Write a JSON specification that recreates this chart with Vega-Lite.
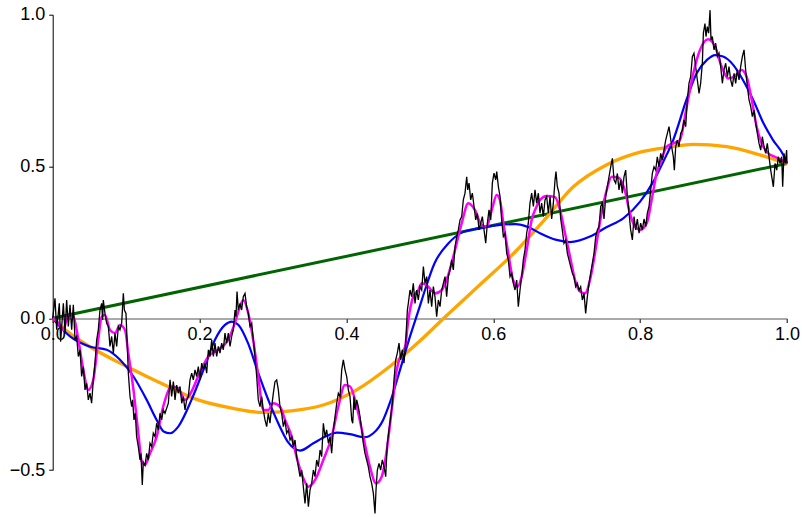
{
  "$schema": "https://vega.github.io/schema/vega-lite/v6.json",
  "autosize": {"type": "none"},
  "padding": {"left": 52.7, "top": 14.7, "right": 15, "bottom": 47},
  "width": 734.3,
  "height": 455.3,
  "background": "white",
  "config": {
    "view": {"stroke": null},
    "axis": {"labelFont": "Liberation Sans", "labelFontSize": 18, "labelColor": "black", "grid": false, "title": null, "tickColor": "black", "tickSize": 4, "domainColor": "black", "domainWidth": 1, "tickWidth": 1, "labelOverlap": false, "labelBound": false, "labelFlush": false}
  },
  "datasets": {
    "green": [{"t": 0, "v": 0}, {"t": 1, "v": 0.51}],
    "orange": [{"t":0,"v":0},{"t":0.0144,"v":-0.033},{"t":0.0508,"v":-0.094},{"t":0.1008,"v":-0.159},{"t":0.157,"v":-0.225},{"t":0.198,"v":-0.269},{"t":0.244,"v":-0.296},{"t":0.285,"v":-0.31},{"t":0.325,"v":-0.305},{"t":0.3685,"v":-0.286},{"t":0.414,"v":-0.236},{"t":0.459,"v":-0.159},{"t":0.5,"v":-0.075},{"t":0.53,"v":-0.006},{"t":0.584,"v":0.115},{"t":0.63,"v":0.219},{"t":0.67,"v":0.325},{"t":0.709,"v":0.433},{"t":0.754,"v":0.505},{"t":0.8,"v":0.547},{"t":0.841,"v":0.564},{"t":0.872,"v":0.573},{"t":0.918,"v":0.565},{"t":0.963,"v":0.538},{"t":1,"v":0.51}],
    "blue": [{"t":0,"v":0},{"t":0.0236,"v":-0.06},{"t":0.051,"v":-0.094},{"t":0.0735,"v":-0.104},{"t":0.0917,"v":-0.137},{"t":0.11,"v":-0.192},{"t":0.128,"v":-0.269},{"t":0.1416,"v":-0.335},{"t":0.151,"v":-0.373},{"t":0.16,"v":-0.379},{"t":0.171,"v":-0.357},{"t":0.189,"v":-0.269},{"t":0.207,"v":-0.159},{"t":0.221,"v":-0.071},{"t":0.2346,"v":-0.022},{"t":0.244,"v":-0.011},{"t":0.253,"v":-0.022},{"t":0.266,"v":-0.082},{"t":0.28,"v":-0.181},{"t":0.2936,"v":-0.269},{"t":0.307,"v":-0.345},{"t":0.321,"v":-0.41},{"t":0.337,"v":-0.436},{"t":0.355,"v":-0.412},{"t":0.373,"v":-0.388},{"t":0.387,"v":-0.377},{"t":0.405,"v":-0.382},{"t":0.425,"v":-0.392},{"t":0.4366,"v":-0.379},{"t":0.45,"v":-0.335},{"t":0.459,"v":-0.28},{"t":0.473,"v":-0.17},{"t":0.4866,"v":-0.06},{"t":0.5,"v":0.04},{"t":0.507,"v":0.093},{"t":0.52,"v":0.181},{"t":0.539,"v":0.247},{"t":0.557,"v":0.282},{"t":0.58,"v":0.296},{"t":0.607,"v":0.307},{"t":0.63,"v":0.31},{"t":0.648,"v":0.3},{"t":0.6636,"v":0.28},{"t":0.686,"v":0.258},{"t":0.7045,"v":0.251},{"t":0.7317,"v":0.269},{"t":0.754,"v":0.3},{"t":0.777,"v":0.329},{"t":0.8,"v":0.384},{"t":0.818,"v":0.45},{"t":0.8316,"v":0.516},{"t":0.845,"v":0.587},{"t":0.863,"v":0.719},{"t":0.877,"v":0.807},{"t":0.891,"v":0.851},{"t":0.902,"v":0.867},{"t":0.913,"v":0.862},{"t":0.927,"v":0.834},{"t":0.94,"v":0.785},{"t":0.954,"v":0.719},{"t":0.968,"v":0.642},{"t":0.981,"v":0.587},{"t":0.995,"v":0.538},{"t":1,"v":0.51}],
    "magenta": [{"t":0,"v":0},{"t":0.0076,"v":-0.016},{"t":0.0144,"v":-0.039},{"t":0.021,"v":0.011},{"t":0.028,"v":0.008},{"t":0.0349,"v":-0.071},{"t":0.0417,"v":-0.17},{"t":0.0485,"v":-0.236},{"t":0.0553,"v":-0.203},{"t":0.062,"v":-0.071},{"t":0.0667,"v":0.005},{"t":0.0712,"v":0.011},{"t":0.078,"v":-0.039},{"t":0.0848,"v":-0.049},{"t":0.0917,"v":-0.022},{"t":0.0985,"v":-0.039},{"t":0.103,"v":-0.115},{"t":0.11,"v":-0.236},{"t":0.1166,"v":-0.379},{"t":0.1212,"v":-0.472},{"t":0.1257,"v":-0.483},{"t":0.1325,"v":-0.445},{"t":0.1416,"v":-0.39},{"t":0.1506,"v":-0.29},{"t":0.162,"v":-0.225},{"t":0.171,"v":-0.23},{"t":0.18,"v":-0.269},{"t":0.189,"v":-0.242},{"t":0.198,"v":-0.192},{"t":0.212,"v":-0.126},{"t":0.2255,"v":-0.104},{"t":0.239,"v":-0.071},{"t":0.248,"v":-0.016},{"t":0.255,"v":0.038},{"t":0.2596,"v":0.06},{"t":0.2664,"v":0.016},{"t":0.273,"v":-0.071},{"t":0.28,"v":-0.192},{"t":0.2868,"v":-0.302},{"t":0.2936,"v":-0.302},{"t":0.3004,"v":-0.28},{"t":0.3095,"v":-0.291},{"t":0.3164,"v":-0.335},{"t":0.3255,"v":-0.39},{"t":0.332,"v":-0.456},{"t":0.3413,"v":-0.527},{"t":0.348,"v":-0.555},{"t":0.3572,"v":-0.533},{"t":0.3685,"v":-0.467},{"t":0.38,"v":-0.39},{"t":0.389,"v":-0.291},{"t":0.398,"v":-0.22},{"t":0.405,"v":-0.225},{"t":0.414,"v":-0.291},{"t":0.423,"v":-0.39},{"t":0.432,"v":-0.489},{"t":0.4403,"v":-0.544},{"t":0.448,"v":-0.522},{"t":0.455,"v":-0.434},{"t":0.4617,"v":-0.302},{"t":0.4685,"v":-0.17},{"t":0.4753,"v":-0.115},{"t":0.48,"v":-0.093},{"t":0.4843,"v":-0.006},{"t":0.491,"v":0.071},{"t":0.498,"v":0.093},{"t":0.5025,"v":0.115},{"t":0.5115,"v":0.104},{"t":0.5206,"v":0.082},{"t":0.53,"v":0.093},{"t":0.5387,"v":0.143},{"t":0.5479,"v":0.225},{"t":0.557,"v":0.313},{"t":0.566,"v":0.379},{"t":0.575,"v":0.357},{"t":0.584,"v":0.307},{"t":0.591,"v":0.302},{"t":0.598,"v":0.357},{"t":0.6047,"v":0.406},{"t":0.609,"v":0.39},{"t":0.6137,"v":0.313},{"t":0.6205,"v":0.214},{"t":0.627,"v":0.126},{"t":0.633,"v":0.104},{"t":0.6387,"v":0.137},{"t":0.6455,"v":0.225},{"t":0.6523,"v":0.324},{"t":0.659,"v":0.368},{"t":0.6636,"v":0.39},{"t":0.6728,"v":0.403},{"t":0.684,"v":0.399},{"t":0.6909,"v":0.357},{"t":0.6977,"v":0.28},{"t":0.7045,"v":0.203},{"t":0.7113,"v":0.126},{"t":0.7181,"v":0.088},{"t":0.725,"v":0.082},{"t":0.7317,"v":0.126},{"t":0.7385,"v":0.214},{"t":0.745,"v":0.313},{"t":0.7545,"v":0.423},{"t":0.7613,"v":0.466},{"t":0.77,"v":0.464},{"t":0.779,"v":0.423},{"t":0.786,"v":0.346},{"t":0.793,"v":0.302},{"t":0.8,"v":0.291},{"t":0.809,"v":0.313},{"t":0.8157,"v":0.39},{"t":0.8225,"v":0.478},{"t":0.829,"v":0.521},{"t":0.836,"v":0.565},{"t":0.845,"v":0.576},{"t":0.854,"v":0.587},{"t":0.8634,"v":0.697},{"t":0.8724,"v":0.807},{"t":0.8815,"v":0.884},{"t":0.8928,"v":0.919},{"t":0.902,"v":0.895},{"t":0.911,"v":0.829},{"t":0.92,"v":0.79},{"t":0.929,"v":0.798},{"t":0.938,"v":0.818},{"t":0.945,"v":0.796},{"t":0.952,"v":0.719},{"t":0.9587,"v":0.631},{"t":0.9655,"v":0.576},{"t":0.9745,"v":0.543},{"t":0.9836,"v":0.532},{"t":0.9928,"v":0.521},{"t":1,"v":0.51}],
    "black": [{"t":0,"v":0},{"t":0.0031,"v":0.066},{"t":0.0054,"v":-0.038},{"t":0.009,"v":0.049},{"t":0.0108,"v":-0.077},{"t":0.0145,"v":0.049},{"t":0.0168,"v":-0.049},{"t":0.019,"v":0.06},{"t":0.0213,"v":-0.027},{"t":0.0236,"v":0.044},{"t":0.0258,"v":-0.038},{"t":0.0281,"v":0.044},{"t":0.0304,"v":-0.071},{"t":0.0326,"v":-0.06},{"t":0.0349,"v":-0.126},{"t":0.0372,"v":-0.104},{"t":0.0394,"v":-0.192},{"t":0.0417,"v":-0.159},{"t":0.044,"v":-0.236},{"t":0.0463,"v":-0.214},{"t":0.0485,"v":-0.269},{"t":0.0508,"v":-0.247},{"t":0.053,"v":-0.28},{"t":0.0553,"v":-0.203},{"t":0.0576,"v":-0.148},{"t":0.0599,"v":-0.071},{"t":0.0621,"v":-0.038},{"t":0.0644,"v":0.027},{"t":0.0667,"v":0.049},{"t":0.068,"v":-0.006},{"t":0.0689,"v":0.06},{"t":0.0712,"v":0.016},{"t":0.0735,"v":-0.017},{"t":0.0758,"v":-0.027},{"t":0.078,"v":-0.093},{"t":0.0803,"v":-0.06},{"t":0.0826,"v":-0.115},{"t":0.0848,"v":-0.049},{"t":0.0871,"v":-0.093},{"t":0.0894,"v":-0.027},{"t":0.0916,"v":-0.038},{"t":0.0939,"v":-0.017},{"t":0.0962,"v":0.082},{"t":0.0976,"v":0.027},{"t":0.0998,"v":0.016},{"t":0.1016,"v":-0.093},{"t":0.103,"v":-0.181},{"t":0.1053,"v":-0.258},{"t":0.1076,"v":-0.291},{"t":0.1089,"v":-0.269},{"t":0.1107,"v":-0.335},{"t":0.1125,"v":-0.313},{"t":0.1143,"v":-0.39},{"t":0.1166,"v":-0.423},{"t":0.1189,"v":-0.467},{"t":0.1202,"v":-0.445},{"t":0.122,"v":-0.549},{"t":0.1234,"v":-0.474},{"t":0.1257,"v":-0.485},{"t":0.128,"v":-0.445},{"t":0.1302,"v":-0.467},{"t":0.1325,"v":-0.412},{"t":0.1348,"v":-0.423},{"t":0.137,"v":-0.379},{"t":0.1393,"v":-0.39},{"t":0.1416,"v":-0.346},{"t":0.1439,"v":-0.368},{"t":0.1461,"v":-0.313},{"t":0.1484,"v":-0.335},{"t":0.1506,"v":-0.302},{"t":0.1529,"v":-0.313},{"t":0.1575,"v":-0.28},{"t":0.1598,"v":-0.203},{"t":0.162,"v":-0.258},{"t":0.1643,"v":-0.209},{"t":0.1666,"v":-0.269},{"t":0.1688,"v":-0.22},{"t":0.1711,"v":-0.247},{"t":0.1734,"v":-0.225},{"t":0.1757,"v":-0.28},{"t":0.1779,"v":-0.258},{"t":0.1802,"v":-0.302},{"t":0.1825,"v":-0.269},{"t":0.1847,"v":-0.258},{"t":0.187,"v":-0.203},{"t":0.1893,"v":-0.181},{"t":0.1915,"v":-0.203},{"t":0.1938,"v":-0.17},{"t":0.1961,"v":-0.192},{"t":0.1983,"v":-0.159},{"t":0.2006,"v":-0.203},{"t":0.2029,"v":-0.148},{"t":0.2051,"v":-0.17},{"t":0.2074,"v":-0.148},{"t":0.2097,"v":-0.181},{"t":0.212,"v":-0.104},{"t":0.2142,"v":-0.126},{"t":0.2165,"v":-0.071},{"t":0.2188,"v":-0.126},{"t":0.221,"v":-0.082},{"t":0.2233,"v":-0.126},{"t":0.2256,"v":-0.093},{"t":0.2278,"v":-0.115},{"t":0.2301,"v":-0.082},{"t":0.2324,"v":-0.104},{"t":0.2346,"v":-0.049},{"t":0.2369,"v":-0.082},{"t":0.2392,"v":-0.049},{"t":0.2415,"v":-0.093},{"t":0.2437,"v":-0.06},{"t":0.246,"v":-0.038},{"t":0.2483,"v":0.027},{"t":0.2496,"v":0.005},{"t":0.251,"v":0.088},{"t":0.2528,"v":0.027},{"t":0.2551,"v":0.049},{"t":0.2573,"v":0.027},{"t":0.2596,"v":0.071},{"t":0.2619,"v":0.082},{"t":0.2641,"v":0.038},{"t":0.2664,"v":0.016},{"t":0.2687,"v":-0.027},{"t":0.271,"v":-0.016},{"t":0.2732,"v":-0.071},{"t":0.2755,"v":-0.126},{"t":0.2778,"v":-0.192},{"t":0.28,"v":-0.269},{"t":0.2823,"v":-0.291},{"t":0.2846,"v":-0.258},{"t":0.2868,"v":-0.302},{"t":0.2891,"v":-0.335},{"t":0.2914,"v":-0.357},{"t":0.2936,"v":-0.313},{"t":0.2959,"v":-0.346},{"t":0.2982,"v":-0.291},{"t":0.3005,"v":-0.247},{"t":0.3027,"v":-0.209},{"t":0.305,"v":-0.203},{"t":0.3073,"v":-0.236},{"t":0.3095,"v":-0.291},{"t":0.3118,"v":-0.313},{"t":0.3141,"v":-0.357},{"t":0.3163,"v":-0.335},{"t":0.3186,"v":-0.379},{"t":0.3209,"v":-0.368},{"t":0.3232,"v":-0.401},{"t":0.3255,"v":-0.39},{"t":0.3277,"v":-0.423},{"t":0.33,"v":-0.401},{"t":0.3323,"v":-0.456},{"t":0.3345,"v":-0.489},{"t":0.3368,"v":-0.522},{"t":0.3391,"v":-0.5},{"t":0.3413,"v":-0.555},{"t":0.3436,"v":-0.61},{"t":0.3459,"v":-0.544},{"t":0.3482,"v":-0.621},{"t":0.3504,"v":-0.566},{"t":0.3527,"v":-0.544},{"t":0.355,"v":-0.5},{"t":0.3572,"v":-0.522},{"t":0.3595,"v":-0.467},{"t":0.3618,"v":-0.489},{"t":0.3641,"v":-0.434},{"t":0.3663,"v":-0.456},{"t":0.3686,"v":-0.346},{"t":0.3709,"v":-0.39},{"t":0.3731,"v":-0.368},{"t":0.3754,"v":-0.412},{"t":0.3777,"v":-0.39},{"t":0.3799,"v":-0.445},{"t":0.3822,"v":-0.368},{"t":0.3845,"v":-0.324},{"t":0.3868,"v":-0.28},{"t":0.389,"v":-0.247},{"t":0.3913,"v":-0.258},{"t":0.3936,"v":-0.17},{"t":0.3958,"v":-0.137},{"t":0.3981,"v":-0.17},{"t":0.4004,"v":-0.192},{"t":0.4026,"v":-0.236},{"t":0.4049,"v":-0.258},{"t":0.4072,"v":-0.335},{"t":0.4086,"v":-0.346},{"t":0.4103,"v":-0.258},{"t":0.4117,"v":-0.302},{"t":0.414,"v":-0.269},{"t":0.4162,"v":-0.291},{"t":0.4185,"v":-0.324},{"t":0.4208,"v":-0.368},{"t":0.423,"v":-0.412},{"t":0.4253,"v":-0.445},{"t":0.4276,"v":-0.467},{"t":0.4298,"v":-0.489},{"t":0.4321,"v":-0.522},{"t":0.4344,"v":-0.544},{"t":0.4367,"v":-0.577},{"t":0.4389,"v":-0.643},{"t":0.4403,"v":-0.566},{"t":0.4421,"v":-0.5},{"t":0.4444,"v":-0.478},{"t":0.4466,"v":-0.5},{"t":0.4489,"v":-0.467},{"t":0.4512,"v":-0.489},{"t":0.4535,"v":-0.522},{"t":0.4557,"v":-0.412},{"t":0.458,"v":-0.368},{"t":0.4603,"v":-0.324},{"t":0.4625,"v":-0.28},{"t":0.4648,"v":-0.203},{"t":0.4671,"v":-0.137},{"t":0.4693,"v":-0.115},{"t":0.4716,"v":-0.082},{"t":0.4739,"v":-0.137},{"t":0.4762,"v":-0.104},{"t":0.4784,"v":-0.148},{"t":0.4807,"v":-0.082},{"t":0.483,"v":0.027},{"t":0.4843,"v":0.049},{"t":0.4866,"v":0.093},{"t":0.4889,"v":0.071},{"t":0.4911,"v":0.115},{"t":0.4934,"v":0.049},{"t":0.4957,"v":0.093},{"t":0.4979,"v":0.06},{"t":0.5002,"v":0.104},{"t":0.5025,"v":0.093},{"t":0.5048,"v":0.17},{"t":0.507,"v":0.115},{"t":0.5093,"v":0.137},{"t":0.5116,"v":0.049},{"t":0.5138,"v":0.093},{"t":0.5161,"v":0.038},{"t":0.5184,"v":0.104},{"t":0.5206,"v":0.071},{"t":0.5229,"v":0.005},{"t":0.5252,"v":0.06},{"t":0.5275,"v":0.038},{"t":0.5297,"v":0.093},{"t":0.532,"v":0.115},{"t":0.5343,"v":0.137},{"t":0.5365,"v":0.071},{"t":0.5388,"v":0.137},{"t":0.5411,"v":0.159},{"t":0.5433,"v":0.192},{"t":0.5456,"v":0.159},{"t":0.5479,"v":0.236},{"t":0.5502,"v":0.269},{"t":0.5524,"v":0.291},{"t":0.5547,"v":0.324},{"t":0.557,"v":0.335},{"t":0.5592,"v":0.39},{"t":0.5615,"v":0.412},{"t":0.5638,"v":0.466},{"t":0.5652,"v":0.423},{"t":0.567,"v":0.445},{"t":0.5692,"v":0.39},{"t":0.5715,"v":0.412},{"t":0.5738,"v":0.368},{"t":0.5761,"v":0.324},{"t":0.5783,"v":0.346},{"t":0.5806,"v":0.291},{"t":0.5829,"v":0.313},{"t":0.5851,"v":0.335},{"t":0.5874,"v":0.291},{"t":0.5897,"v":0.247},{"t":0.5919,"v":0.313},{"t":0.5942,"v":0.357},{"t":0.5965,"v":0.324},{"t":0.5987,"v":0.445},{"t":0.601,"v":0.478},{"t":0.6033,"v":0.456},{"t":0.6047,"v":0.483},{"t":0.6069,"v":0.434},{"t":0.6092,"v":0.401},{"t":0.6114,"v":0.324},{"t":0.6137,"v":0.269},{"t":0.616,"v":0.28},{"t":0.6183,"v":0.214},{"t":0.6205,"v":0.192},{"t":0.6228,"v":0.137},{"t":0.6251,"v":0.148},{"t":0.6273,"v":0.115},{"t":0.6296,"v":0.093},{"t":0.6319,"v":0.126},{"t":0.6341,"v":0.038},{"t":0.6364,"v":0.093},{"t":0.6387,"v":0.137},{"t":0.6409,"v":0.192},{"t":0.6432,"v":0.225},{"t":0.6455,"v":0.28},{"t":0.6477,"v":0.313},{"t":0.65,"v":0.379},{"t":0.6523,"v":0.412},{"t":0.6546,"v":0.368},{"t":0.6568,"v":0.423},{"t":0.6591,"v":0.379},{"t":0.6614,"v":0.412},{"t":0.6636,"v":0.346},{"t":0.6659,"v":0.379},{"t":0.6682,"v":0.335},{"t":0.6704,"v":0.39},{"t":0.6727,"v":0.401},{"t":0.675,"v":0.346},{"t":0.6773,"v":0.401},{"t":0.6795,"v":0.327},{"t":0.6818,"v":0.379},{"t":0.6841,"v":0.456},{"t":0.6854,"v":0.483},{"t":0.6872,"v":0.434},{"t":0.6895,"v":0.412},{"t":0.6918,"v":0.327},{"t":0.694,"v":0.291},{"t":0.6963,"v":0.247},{"t":0.6986,"v":0.258},{"t":0.7009,"v":0.214},{"t":0.7031,"v":0.192},{"t":0.7054,"v":0.17},{"t":0.7077,"v":0.148},{"t":0.7099,"v":0.137},{"t":0.7122,"v":0.104},{"t":0.7145,"v":0.115},{"t":0.7168,"v":0.093},{"t":0.719,"v":0.104},{"t":0.7213,"v":0.06},{"t":0.7236,"v":0.082},{"t":0.7258,"v":0.016},{"t":0.7281,"v":0.071},{"t":0.7304,"v":0.115},{"t":0.7326,"v":0.148},{"t":0.7349,"v":0.181},{"t":0.7372,"v":0.214},{"t":0.7395,"v":0.269},{"t":0.7417,"v":0.291},{"t":0.744,"v":0.302},{"t":0.7463,"v":0.368},{"t":0.7485,"v":0.379},{"t":0.7508,"v":0.327},{"t":0.7531,"v":0.401},{"t":0.7553,"v":0.434},{"t":0.7576,"v":0.466},{"t":0.7599,"v":0.499},{"t":0.7622,"v":0.527},{"t":0.7644,"v":0.456},{"t":0.7667,"v":0.445},{"t":0.769,"v":0.477},{"t":0.7712,"v":0.423},{"t":0.7735,"v":0.456},{"t":0.7758,"v":0.412},{"t":0.778,"v":0.466},{"t":0.7803,"v":0.488},{"t":0.7826,"v":0.401},{"t":0.7849,"v":0.346},{"t":0.7871,"v":0.291},{"t":0.7894,"v":0.258},{"t":0.7917,"v":0.335},{"t":0.7939,"v":0.291},{"t":0.7962,"v":0.327},{"t":0.7985,"v":0.28},{"t":0.8007,"v":0.313},{"t":0.803,"v":0.291},{"t":0.8053,"v":0.327},{"t":0.8076,"v":0.302},{"t":0.8098,"v":0.346},{"t":0.8121,"v":0.368},{"t":0.8144,"v":0.423},{"t":0.8166,"v":0.477},{"t":0.8189,"v":0.499},{"t":0.8212,"v":0.488},{"t":0.8234,"v":0.532},{"t":0.8257,"v":0.499},{"t":0.828,"v":0.543},{"t":0.8302,"v":0.521},{"t":0.8325,"v":0.554},{"t":0.8348,"v":0.587},{"t":0.8371,"v":0.609},{"t":0.8393,"v":0.631},{"t":0.8406,"v":0.609},{"t":0.8429,"v":0.565},{"t":0.8452,"v":0.532},{"t":0.8466,"v":0.488},{"t":0.8484,"v":0.565},{"t":0.8506,"v":0.587},{"t":0.8529,"v":0.565},{"t":0.8552,"v":0.609},{"t":0.8575,"v":0.62},{"t":0.8597,"v":0.653},{"t":0.862,"v":0.631},{"t":0.8643,"v":0.719},{"t":0.8665,"v":0.774},{"t":0.8688,"v":0.796},{"t":0.8711,"v":0.862},{"t":0.8733,"v":0.873},{"t":0.8756,"v":0.829},{"t":0.8779,"v":0.785},{"t":0.8802,"v":0.741},{"t":0.8824,"v":0.774},{"t":0.8847,"v":0.84},{"t":0.8861,"v":0.939},{"t":0.8883,"v":0.971},{"t":0.8897,"v":0.928},{"t":0.8915,"v":0.961},{"t":0.8933,"v":0.939},{"t":0.8952,"v":1.015},{"t":0.8965,"v":0.917},{"t":0.8983,"v":0.928},{"t":0.9006,"v":0.884},{"t":0.9029,"v":0.906},{"t":0.9052,"v":0.862},{"t":0.9074,"v":0.873},{"t":0.9097,"v":0.829},{"t":0.912,"v":0.774},{"t":0.9142,"v":0.818},{"t":0.9165,"v":0.84},{"t":0.9188,"v":0.796},{"t":0.921,"v":0.829},{"t":0.9233,"v":0.785},{"t":0.9256,"v":0.763},{"t":0.9279,"v":0.807},{"t":0.9301,"v":0.774},{"t":0.9324,"v":0.818},{"t":0.9347,"v":0.785},{"t":0.9369,"v":0.829},{"t":0.9392,"v":0.862},{"t":0.9415,"v":0.884},{"t":0.9437,"v":0.818},{"t":0.946,"v":0.763},{"t":0.9483,"v":0.719},{"t":0.9506,"v":0.697},{"t":0.9528,"v":0.664},{"t":0.9551,"v":0.686},{"t":0.9574,"v":0.642},{"t":0.9596,"v":0.609},{"t":0.9619,"v":0.576},{"t":0.9642,"v":0.554},{"t":0.9664,"v":0.598},{"t":0.9687,"v":0.565},{"t":0.971,"v":0.543},{"t":0.9732,"v":0.576},{"t":0.9755,"v":0.532},{"t":0.9778,"v":0.488},{"t":0.98,"v":0.455},{"t":0.9814,"v":0.433},{"t":0.9837,"v":0.51},{"t":0.986,"v":0.488},{"t":0.9882,"v":0.532},{"t":0.9905,"v":0.51},{"t":0.9928,"v":0.532},{"t":0.9941,"v":0.433},{"t":0.9959,"v":0.543},{"t":0.9977,"v":0.51},{"t":0.9995,"v":0.554},{"t":1,"v":0.51}]
  },
  "encoding": {
    "x": {"field": "t", "type": "quantitative", "scale": {"domain": [0, 1], "nice": false, "zero": false},
          "axis": {"offset": -151.5, "values": [0, 0.2, 0.4, 0.6, 0.8, 1.0], "format": ".1f", "labelPadding": 3, "domainColor": "#555"}},
    "y": {"field": "v", "type": "quantitative", "scale": {"domain": [-0.5, 1.0], "nice": false, "zero": false},
          "axis": {"values": [-0.5, 0, 0.5, 1.0], "format": ".1f", "labelPadding": 4}}
  },
  "layer": [
    {"data": {"name": "green"}, "mark": {"type": "line", "color": "#006400", "strokeWidth": 3, "clip": false}},
    {"data": {"name": "orange"}, "mark": {"type": "line", "color": "#FFA500", "strokeWidth": 3.3, "interpolate": "monotone", "clip": false}},
    {"data": {"name": "blue"}, "mark": {"type": "line", "color": "#0000FF", "strokeWidth": 2.2, "interpolate": "monotone", "clip": false}},
    {"data": {"name": "magenta"}, "mark": {"type": "line", "color": "#FF00FF", "strokeWidth": 2.5, "interpolate": "monotone", "clip": false}},
    {"data": {"name": "black"}, "mark": {"type": "line", "color": "#000000", "strokeWidth": 1.3, "clip": false}}
  ]
}
